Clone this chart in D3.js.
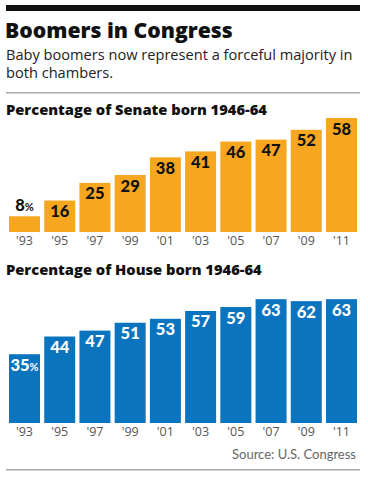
<!DOCTYPE html>
<html>
<head>
<meta charset="utf-8">
<script src="https://cdn.jsdelivr.net/npm/d3@7"></script>
<style>
  html, body { margin: 0; padding: 0; background: #fff; }
  svg { display: block; }
</style>
</head>
<body>
<svg id="chart" width="368" height="477"></svg>
<script>
const years = ["'93", "'95", "'97", "'99", "'01", "'03", "'05", "'07", "'09", "'11"];
const senateValues = [8, 16, 25, 29, 38, 41, 46, 47, 52, 58];
const houseValues = [35, 44, 47, 51, 53, 57, 59, 63, 62, 63];

const title = "Boomers in Congress";
const subtitleLines = ["Baby boomers now represent a forceful majority in", "both chambers."];
const senateTitle = "Percentage of Senate born 1946-64";
const houseTitle = "Percentage of House born 1946-64";
const source = "Source: U.S. Congress";

const FONT = "'Open Sans', Lato, sans-serif";
const LATO = "Lato, 'Open Sans', sans-serif";
const svg = d3.select("#chart");

// header
svg.append("rect").attr("x", 6).attr("y", 5).attr("width", 354).attr("height", 6).attr("fill", "#111");
svg.append("text").attr("x", 5).attr("y", 38).text(title)
  .attr("font-family", FONT).attr("font-weight", 800).attr("font-size", 21.2).attr("fill", "#111");
subtitleLines.forEach((t, i) => {
  svg.append("text").attr("x", 6).attr("y", 60 + i * 18).text(t)
    .attr("font-family", FONT).attr("font-size", 14.6).attr("fill", "#222");
});
svg.append("rect").attr("x", 6).attr("y", 92).attr("width", 354).attr("height", 1.5).attr("fill", "#aaa");

const x = d3.scaleBand().domain(years).range([9, 357]).paddingInner(0.12).paddingOuter(0);

function panel(values, top, baseline, color, labelColor, heading, inside) {
  svg.append("text").attr("x", 6).attr("y", top).text(heading)
    .attr("font-family", FONT).attr("font-weight", 800).attr("font-size", 14.7).attr("fill", "#111");
  const y = d3.scaleLinear().domain([0, 58]).range([baseline, baseline - 114]);
  const g = svg.append("g");
  const data = years.map((yr, i) => ({ yr, v: values[i], i }));
  g.selectAll("rect").data(data).join("rect")
    .attr("x", d => x(d.yr)).attr("width", x.bandwidth())
    .attr("y", d => y(d.v)).attr("height", d => baseline - y(d.v))
    .attr("fill", color);
  const lbl = g.selectAll("text.val").data(data).join("text").attr("class", "val")
    .attr("x", d => x(d.yr) + x.bandwidth() / 2)
    .attr("y", d => (d.i === 0 && !inside) ? y(d.v) - 5 : y(d.v) + 16.5)
    .attr("text-anchor", "middle")
    .attr("font-family", LATO).attr("font-weight", 900).attr("font-size", 16.5)
    .attr("fill", d => (d.i === 0 && !inside) ? "#111" : labelColor);
  lbl.append("tspan").text(d => d.v);
  lbl.filter(d => d.i === 0).append("tspan").text("%").attr("font-size", 11).attr("font-weight", 700);
  const axis = d3.axisBottom(x).tickSize(0).tickPadding(0);
  const ag = svg.append("g").attr("transform", `translate(0,${baseline})`).call(axis);
  ag.select(".domain").remove();
  ag.selectAll("text").attr("dy", null).attr("y", 12.5)
    .attr("font-family", FONT).attr("font-size", 12.5).attr("fill", "#555");
}

panel(senateValues, 115, 232, "#F7A620", "#111", senateTitle, false);
panel(houseValues, 275, 423, "#0A74BF", "#fff", houseTitle, true);

svg.append("text").attr("x", 356).attr("y", 459).attr("text-anchor", "end").text(source)
  .attr("font-family", LATO).attr("font-size", 13).attr("fill", "#666");
svg.append("rect").attr("x", 6).attr("y", 469).attr("width", 354).attr("height", 1.5).attr("fill", "#aaa");
</script>
</body>
</html>
